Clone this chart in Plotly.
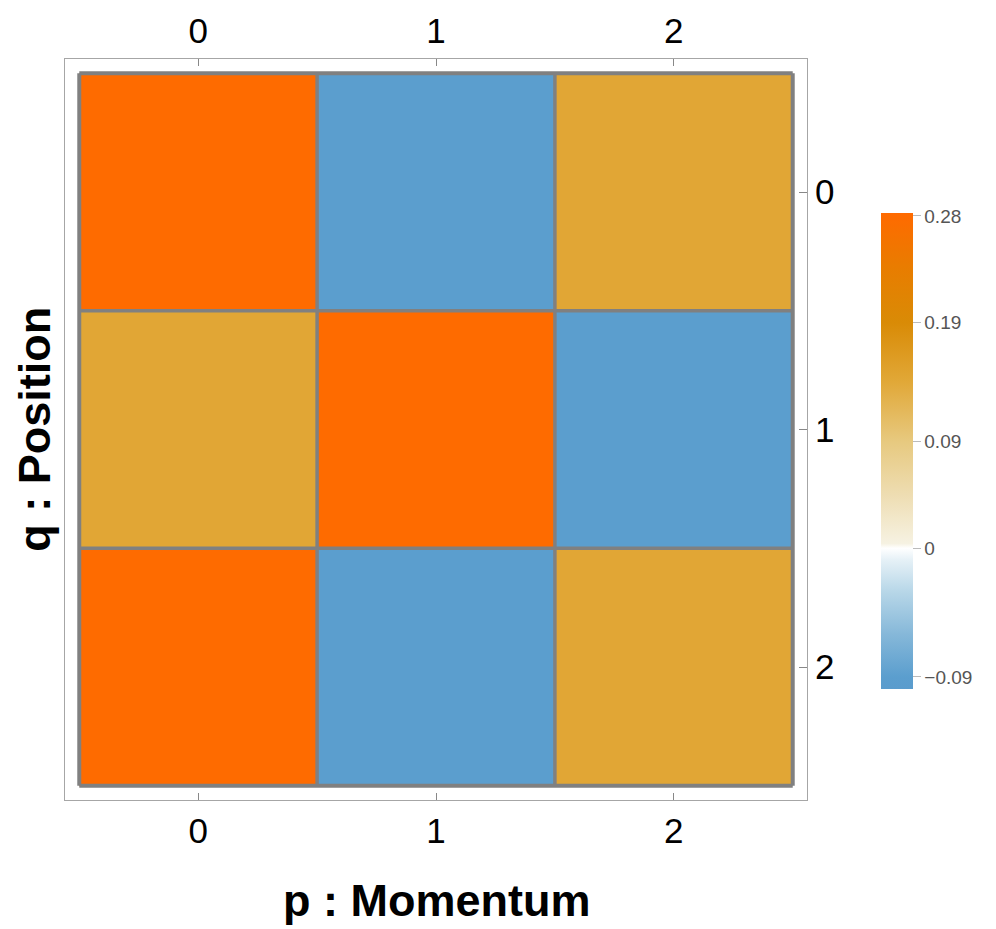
import plotly.graph_objects as go

# discrete Wigner function of a qutrit state
p_vals = [0, 1, 2]          # momentum (columns)
q_vals = [0, 1, 2]          # position (rows)
w_q0 = [0.28, -0.09, 0.143]
w_q1 = [0.143, 0.28, -0.09]
w_q2 = [0.28, -0.09, 0.143]
cbar_ticks = [0.28, 0.19, 0.09, 0.0, -0.09]
cbar_labels = ["0.28", "0.19", "0.09", "0", "\u22120.09"]

# the legend stretches the negative side a bit more than the positive side
NEG_STRETCH = 1.205
CMIN, CMAX = -0.1186, 0.2825


def to_color(v):
    return v if v >= 0 else v * NEG_STRETCH


z = [[to_color(v) for v in row] for row in (w_q0, w_q1, w_q2)]


def pos(v):
    return (to_color(v) - CMIN) / (CMAX - CMIN)


colorscale = [
    [0.0, "#5A9CCD"],
    [pos(-0.09), "#5B9ECE"],
    [pos(-0.06), "#86B8D9"],
    [pos(-0.03), "#B8D7E8"],
    [pos(-0.008), "#E6F1F7"],
    [pos(0.0), "#FFFFFF"],
    [pos(0.004), "#F6F2E2"],
    [pos(0.045), "#EEDDB2"],
    [pos(0.09), "#E7C97F"],
    [pos(0.14), "#E1A838"],
    [pos(0.19), "#D98B06"],
    [pos(0.235), "#E87D00"],
    [1.0, "#FF6A00"],
]

font_main = "Liberation Sans, Arial, sans-serif"

fig = go.Figure()
fig.add_trace(go.Heatmap(
    x=p_vals, y=q_vals, z=z,
    zmin=CMIN, zmax=CMAX,
    colorscale=colorscale,
    hoverinfo="skip",
    colorbar=dict(
        x=1.0997, xanchor="left", xpad=0,
        y=0.471, yanchor="middle", ypad=0,
        len=476, lenmode="pixels",
        thickness=32,
        outlinewidth=0,
        ticks="outside", ticklen=8, tickcolor="#BBBBBB",
        tickvals=[to_color(t) for t in cbar_ticks],
        ticktext=cbar_labels,
        tickfont=dict(size=19, color="#555555", family=font_main),
    ),
))
# invisible trace so the top axis gets drawn
fig.add_trace(go.Scatter(
    x=p_vals, y=q_vals, xaxis="x2", mode="markers",
    marker=dict(opacity=0), showlegend=False, hoverinfo="skip",
))

# cell borders
grey = "#808080"
n = len(p_vals)
for i in range(n + 1):
    edge = i in (0, n)
    fig.add_shape(type="line", x0=i - 0.5, x1=i - 0.5, y0=-0.5, y1=n - 0.5,
                  line=dict(color=grey, width=4 if edge else 3.5), layer="above")
    fig.add_shape(type="line", x0=-0.5, x1=n - 0.5, y0=i - 0.5, y1=i - 0.5,
                  line=dict(color=grey, width=4 if edge else 3.5), layer="above")

# page body adds an 8px margin, so the figure is 8px smaller than the window
fig.update_layout(
    width=988, height=921,
    margin=dict(l=57, r=189, t=51, b=129, autoexpand=False),
    paper_bgcolor="white", plot_bgcolor="white",
    font=dict(family=font_main, color="black"),
    xaxis=dict(
        range=[-0.56, 2.56], tickvals=p_vals, showgrid=False, zeroline=False,
        showline=True, mirror="ticks", linecolor="#A6A6A6", linewidth=1,
        ticks="inside", ticklen=7, tickcolor="#888888", automargin=False,
        tickfont=dict(size=35), ticklabelstandoff=0,
    ),
    xaxis2=dict(
        overlaying="x", side="top", matches="x", range=[-0.56, 2.56],
        tickvals=p_vals, showgrid=False, zeroline=False, showline=False,
        ticks="", tickfont=dict(size=35), ticklabelstandoff=8, automargin=False,
    ),
    yaxis=dict(
        range=[2.56, -0.56], tickvals=q_vals, side="right",
        showgrid=False, zeroline=False,
        showline=True, mirror=True, linecolor="#A6A6A6", linewidth=1,
        ticks="inside", ticklen=8, tickcolor="#888888", automargin=False,
        tickfont=dict(size=35), ticklabelstandoff=0,
    ),
    annotations=[
        dict(text="<b>p : Momentum</b>", x=0.5, y=-0.135, xref="paper", yref="paper",
             xanchor="center", yanchor="middle", showarrow=False,
             font=dict(size=45, family=font_main, color="black")),
        dict(text="<b>q : Position</b>", x=-0.0415, y=0.5, xref="paper", yref="paper",
             xanchor="center", yanchor="middle", textangle=-90, showarrow=False,
             font=dict(size=45, family=font_main, color="black")),
    ],
)

fig.write_html("out.html")
